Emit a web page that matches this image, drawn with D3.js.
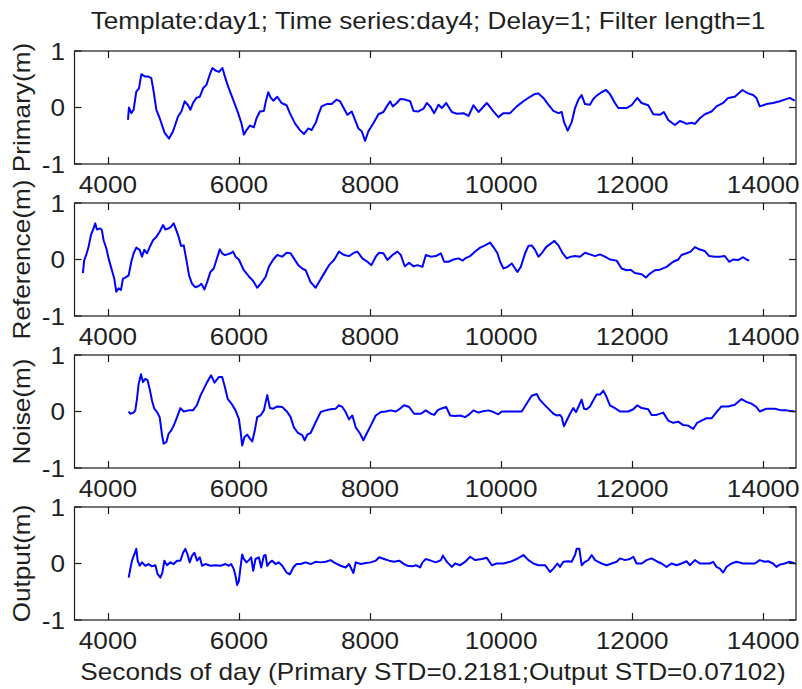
<!DOCTYPE html>
<html>
<head>
<meta charset="utf-8">
<script src="https://cdn.jsdelivr.net/npm/d3@7"></script>
<style>
  html, body { margin: 0; padding: 0; background: #fff; }
  svg { display: block; }
  text { font-family: "Liberation Sans", Arial, Helvetica, sans-serif; fill: #1f1f1f; }
</style>
</head>
<body>
<svg id="chart" width="802" height="689"></svg>
<script>
// Water-level series, [seconds of day, metres]
const primary = [[4306,-0.22],[4321,0],[4357,-0.10],[4392,-0.04],[4433,0.28],[4474,0.34],[4510,0.59],[4561,0.55],[4612,0.55],[4662,0.52],[4698,0.28],[4739,-0.04],[4790,-0.19],[4866,-0.45],[4933,-0.55],[4994,-0.42],[5070,-0.16],[5121,-0.07],[5172,0.11],[5223,0.04],[5259,-0.04],[5299,0.08],[5350,0.17],[5401,0.19],[5452,0.34],[5503,0.40],[5554,0.58],[5595,0.70],[5646,0.65],[5697,0.63],[5748,0.70],[5784,0.55],[5835,0.37],[5911,0.14],[5987,-0.10],[6038,-0.28],[6074,-0.48],[6115,-0.40],[6166,-0.32],[6227,-0.35],[6268,-0.19],[6319,-0.07],[6380,-0.06],[6410,0.11],[6446,0.27],[6482,0.18],[6523,0.12],[6584,0.19],[6650,0.08],[6726,0.04],[6777,-0.10],[6854,-0.28],[6930,-0.40],[6991,-0.47],[7058,-0.37],[7109,-0.40],[7175,-0.26],[7210,-0.13],[7261,0.02],[7338,0.06],[7414,0.06],[7491,0.14],[7542,0.11],[7593,0],[7654,-0.13],[7720,-0.07],[7771,-0.22],[7822,-0.37],[7873,-0.42],[7924,-0.59],[7975,-0.42],[8051,-0.28],[8128,-0.12],[8204,-0.08],[8255,0.02],[8306,0.11],[8347,0.02],[8408,0.08],[8459,0.15],[8535,0.14],[8612,0.11],[8663,-0.06],[8739,-0.07],[8816,-0.02],[8866,0.08],[8918,0.02],[8979,-0.10],[9045,0.05],[9096,-0.01],[9162,0.08],[9248,-0.08],[9324,-0.11],[9426,-0.10],[9502,-0.15],[9578,0.04],[9655,-0.08],[9782,0.08],[9883,-0.07],[9959,-0.17],[10036,-0.10],[10137,-0.10],[10239,0.02],[10340,0.11],[10442,0.19],[10518,0.24],[10569,0.25],[10645,0.17],[10721,0.05],[10798,-0.06],[10874,-0.10],[10925,-0.08],[10960,-0.26],[11016,-0.41],[11077,-0.26],[11128,-0.01],[11179,0.14],[11229,0.22],[11280,0.06],[11356,0.05],[11407,0.15],[11458,0.21],[11534,0.27],[11600,0.31],[11661,0.24],[11737,0.08],[11788,-0.01],[11915,-0.01],[11991,0.04],[12078,0.17],[12144,0.08],[12245,0.04],[12322,-0.12],[12423,-0.13],[12484,-0.08],[12550,-0.22],[12652,-0.31],[12728,-0.24],[12779,-0.26],[12830,-0.29],[12906,-0.27],[12957,-0.29],[13033,-0.19],[13109,-0.12],[13211,-0.07],[13287,0.02],[13388,0.08],[13465,0.17],[13566,0.19],[13683,0.31],[13769,0.25],[13846,0.22],[13896,0.17],[13947,0.02],[14049,0.06],[14150,0.08],[14252,0.11],[14328,0.14],[14404,0.17],[14480,0.12]];

const reference = [[3618,-0.24],[3638,-0.01],[3669,0.08],[3704,0.22],[3740,0.43],[3781,0.55],[3806,0.64],[3832,0.53],[3883,0.55],[3908,0.52],[3934,0.34],[3975,0.20],[4010,0.02],[4061,-0.19],[4097,-0.34],[4127,-0.57],[4163,-0.51],[4199,-0.54],[4229,-0.34],[4265,-0.32],[4316,-0.28],[4357,-0.04],[4392,0.11],[4433,0.21],[4484,0.17],[4520,0.05],[4555,0.17],[4596,0.11],[4637,0.22],[4688,0.34],[4739,0.40],[4790,0.49],[4841,0.61],[4877,0.53],[4927,0.55],[4963,0.58],[5004,0.64],[5040,0.53],[5080,0.40],[5116,0.24],[5157,0.25],[5198,-0.01],[5238,-0.28],[5284,-0.43],[5335,-0.49],[5386,-0.47],[5427,-0.43],[5473,-0.53],[5514,-0.40],[5564,-0.22],[5615,-0.16],[5656,-0.01],[5707,0.18],[5743,0.11],[5779,0.08],[5819,0.09],[5870,0.11],[5911,0.14],[5947,0.05],[5998,0],[6074,-0.19],[6151,-0.30],[6217,-0.38],[6278,-0.50],[6329,-0.43],[6405,-0.31],[6456,-0.13],[6523,0],[6584,0.08],[6660,0.05],[6726,0.12],[6788,0.11],[6838,0.02],[6905,-0.10],[6966,-0.16],[7017,-0.19],[7093,-0.40],[7170,-0.50],[7221,-0.40],[7297,-0.25],[7374,-0.10],[7450,-0.01],[7526,0.14],[7603,0.08],[7679,0.06],[7756,0.12],[7807,0.14],[7883,0.02],[7960,-0.04],[8021,-0.10],[8087,0.05],[8138,0.12],[8204,0.11],[8265,-0.01],[8342,0.08],[8418,0.14],[8469,0.08],[8530,-0.12],[8597,-0.06],[8663,-0.12],[8724,-0.10],[8800,-0.13],[8851,0.08],[8928,0.05],[9004,0.06],[9081,0.11],[9131,-0.04],[9197,-0.04],[9274,0],[9350,0.02],[9416,-0.02],[9451,0.02],[9528,0.06],[9604,0.14],[9680,0.21],[9756,0.25],[9832,0.30],[9883,0.22],[9944,0.11],[9985,-0.04],[10036,-0.16],[10097,-0.13],[10163,-0.07],[10213,-0.16],[10249,-0.22],[10300,-0.13],[10366,0.11],[10417,0.24],[10467,0.25],[10518,0.17],[10569,0.05],[10620,0.11],[10686,0.22],[10757,0.28],[10813,0.33],[10874,0.25],[10940,0.11],[11001,0.02],[11062,0.05],[11128,0.06],[11204,0.05],[11280,0.12],[11356,0.09],[11433,0.06],[11509,0.09],[11585,0.05],[11661,0],[11763,-0.02],[11839,-0.16],[11915,-0.19],[11976,-0.18],[12042,-0.24],[12144,-0.26],[12210,-0.32],[12271,-0.25],[12347,-0.19],[12423,-0.18],[12525,-0.13],[12626,-0.04],[12703,0],[12753,0.08],[12830,0.11],[12891,0.14],[12957,0.22],[13023,0.18],[13109,0.15],[13175,0.06],[13261,0.05],[13338,0.05],[13414,0.06],[13480,-0.04],[13541,0],[13617,-0.01],[13693,0.04],[13744,0],[13785,-0.02]];

const noise = [[4316,0],[4341,-0.04],[4392,-0.02],[4418,0.02],[4443,0.22],[4469,0.49],[4505,0.66],[4535,0.52],[4571,0.58],[4606,0.55],[4637,0.40],[4673,0.19],[4708,0.05],[4749,-0.01],[4790,-0.10],[4826,-0.42],[4851,-0.57],[4892,-0.54],[4927,-0.39],[4963,-0.34],[5004,-0.25],[5055,-0.10],[5106,0.06],[5157,0],[5233,0.02],[5299,0.02],[5361,0.12],[5412,0.28],[5463,0.40],[5514,0.52],[5575,0.64],[5626,0.51],[5692,0.61],[5743,0.61],[5779,0.46],[5829,0.22],[5880,0.15],[5947,0.02],[5998,-0.13],[6023,-0.34],[6049,-0.60],[6084,-0.45],[6125,-0.41],[6166,-0.48],[6202,-0.53],[6237,-0.36],[6278,-0.10],[6329,-0.07],[6380,0.02],[6431,0.29],[6472,0.06],[6523,0.05],[6584,0.09],[6660,0.08],[6737,-0.01],[6788,-0.10],[6838,-0.28],[6900,-0.38],[6966,-0.42],[7002,-0.51],[7042,-0.41],[7093,-0.38],[7170,-0.19],[7246,-0.01],[7323,0.02],[7399,0.04],[7476,0.05],[7526,0.11],[7577,0.08],[7628,-0.01],[7679,-0.14],[7730,-0.07],[7781,-0.28],[7847,-0.39],[7898,-0.51],[7949,-0.39],[8011,-0.25],[8087,-0.07],[8163,-0.01],[8240,0],[8316,0.02],[8393,0],[8469,0.06],[8520,0.11],[8597,0.08],[8673,-0.04],[8775,-0.04],[8851,0.02],[8928,-0.04],[8979,-0.06],[9030,0.02],[9081,0.05],[9162,0.08],[9223,-0.07],[9299,-0.08],[9375,-0.07],[9451,-0.10],[9502,-0.06],[9578,0.02],[9655,-0.02],[9705,0],[9807,0.02],[9883,-0.01],[9959,-0.05],[10010,0],[10137,0],[10315,0],[10391,0.14],[10467,0.28],[10544,0.31],[10584,0.22],[10645,0.14],[10721,0.05],[10798,-0.04],[10848,-0.07],[10899,-0.06],[10925,-0.10],[10960,-0.26],[11001,-0.16],[11052,-0.04],[11102,0.06],[11143,-0.01],[11194,0.12],[11229,0.21],[11265,0.05],[11306,0.04],[11356,0.09],[11407,0.20],[11458,0.30],[11509,0.30],[11560,0.37],[11600,0.28],[11661,0.11],[11737,0.06],[11814,0],[11941,0],[12017,0.04],[12078,0.11],[12144,0.06],[12245,0.04],[12296,-0.06],[12372,-0.06],[12474,-0.02],[12550,-0.16],[12626,-0.20],[12703,-0.18],[12779,-0.24],[12855,-0.25],[12931,-0.31],[12992,-0.20],[13058,-0.16],[13134,-0.12],[13211,-0.12],[13287,-0.01],[13363,0.09],[13465,0.09],[13566,0.12],[13668,0.22],[13744,0.17],[13820,0.14],[13896,0.08],[13947,0],[14049,0.05],[14176,0.05],[14278,0.02],[14354,0.02],[14480,0]];

const output = [[4316,-0.25],[4341,-0.10],[4367,0.05],[4403,0.16],[4433,0.26],[4454,0.05],[4484,-0.04],[4520,0.02],[4571,-0.04],[4622,-0.01],[4673,-0.05],[4724,-0.03],[4759,-0.19],[4800,-0.25],[4831,-0.16],[4861,0.05],[4902,-0.03],[4953,0.02],[5004,-0.01],[5055,0.05],[5106,0.05],[5147,0.19],[5182,0.26],[5218,0.15],[5248,0.02],[5284,0.14],[5320,0.19],[5361,0.05],[5401,0.11],[5437,-0.04],[5488,-0.01],[5564,-0.04],[5641,-0.03],[5717,-0.04],[5794,-0.01],[5845,-0.04],[5880,-0.01],[5921,-0.10],[5947,-0.22],[5972,-0.38],[5998,-0.31],[6023,-0.07],[6049,0.16],[6074,0.08],[6115,0.02],[6151,0.06],[6186,0.11],[6217,-0.13],[6252,0.08],[6304,0.11],[6339,-0.07],[6380,0.14],[6405,0.15],[6431,-0.04],[6472,0.02],[6507,0.05],[6558,-0.01],[6609,0.02],[6660,-0.04],[6726,-0.16],[6777,-0.19],[6828,-0.07],[6879,-0.01],[6940,-0.01],[7017,0.02],[7093,-0.01],[7170,0.03],[7246,0.02],[7323,0.03],[7399,0.06],[7450,0.02],[7501,-0.01],[7552,-0.04],[7628,-0.07],[7679,-0.01],[7705,-0.07],[7746,-0.17],[7781,0.02],[7858,-0.01],[7934,0.01],[8011,0.02],[8087,0.05],[8138,0.11],[8214,0.08],[8291,0.05],[8367,0.03],[8444,0.05],[8520,-0.01],[8571,-0.04],[8647,-0.05],[8698,-0.03],[8764,-0.07],[8800,0.02],[8851,0.08],[8928,0.05],[9004,0.02],[9081,0.06],[9111,0.14],[9172,0.03],[9248,-0.06],[9299,0],[9375,-0.03],[9451,0.03],[9528,0.12],[9604,0.06],[9705,0.08],[9782,0.10],[9858,-0.03],[9934,0],[10036,0],[10137,0.03],[10239,0.08],[10340,0.15],[10417,0.06],[10493,0],[10569,-0.03],[10671,-0.03],[10747,-0.15],[10798,-0.09],[10859,0],[10899,-0.06],[10950,0.03],[11026,0.04],[11077,0.03],[11128,0.15],[11153,0.26],[11194,0.26],[11229,-0.03],[11280,0.03],[11331,0.06],[11382,0.15],[11433,0.06],[11483,0.03],[11534,0],[11610,-0.03],[11687,0],[11763,0.03],[11814,0.09],[11890,0.06],[11966,0.08],[12017,0.12],[12068,0],[12144,0],[12220,0.06],[12296,0.09],[12372,0.04],[12448,0],[12525,-0.06],[12601,0],[12677,-0.03],[12753,0],[12830,0.04],[12880,-0.03],[12957,0.06],[13033,0],[13109,0],[13185,0],[13236,0.03],[13287,-0.06],[13338,-0.09],[13388,-0.16],[13439,-0.06],[13515,0],[13591,0.03],[13693,0],[13795,0],[13871,0],[13947,0.06],[14023,0.03],[14074,0.04],[14150,0],[14201,-0.06],[14252,-0.02],[14328,0],[14404,0.03],[14480,0]];

const panelSeries = [primary, reference, noise, output];
const panelLabels = ["Primary(m)", "Reference(m)", "Noise(m)", "Output(m)"];
const xTicks = [4000, 6000, 8000, 10000, 12000, 14000];
const yTicks = [-1, 0, 1];
const xDomain = [3490, 14500];
const yDomain = [-1, 1];
const titleText = "Template:day1; Time series:day4; Delay=1; Filter length=1";
const xLabelText = "Seconds of day (Primary STD=0.2181;Output STD=0.07102)";

const svg = d3.select("#chart");
const left = 74.5, right = 796;
const panelTops = [51, 203, 355, 507];
const panelH = 113;
const tickLen = 7;
const fontSize = 24;
const stretch = 1.09;   // the figure font runs a little wider than Arial

// widen a text element horizontally by the stretch factor
function widen(sel) {
  sel.each(function () {
    const w = this.getComputedTextLength();
    d3.select(this).attr("textLength", w * stretch).attr("lengthAdjust", "spacingAndGlyphs");
  });
}

const x = d3.scaleLinear().domain(xDomain).range([left, right]);

svg.append("text")
  .attr("x", 428).attr("y", 29)
  .attr("text-anchor", "middle")
  .attr("font-size", fontSize)
  .text(titleText)
  .call(widen);

panelSeries.forEach((series, i) => {
  const top = panelTops[i];
  const bottom = top + panelH;
  const y = d3.scaleLinear().domain(yDomain).range([bottom, top]);
  const g = svg.append("g");

  // data trace
  const line = d3.line().x(d => x(d[0])).y(d => y(d[1]));
  g.append("path")
    .datum(series)
    .attr("fill", "none")
    .attr("stroke", "#0000ff")
    .attr("stroke-width", 2)
    .attr("stroke-linejoin", "round")
    .attr("d", line);

  // inward ticks on all four sides
  const axisStyle = sel => sel.attr("stroke", "#1a1a1a").attr("stroke-width", 1.2);
  xTicks.forEach(t => {
    const px = Math.round(x(t)) + 0.5;
    g.append("line").attr("x1", px).attr("x2", px).attr("y1", top).attr("y2", top + tickLen).call(axisStyle);
    g.append("line").attr("x1", px).attr("x2", px).attr("y1", bottom).attr("y2", bottom - tickLen).call(axisStyle);
    g.append("text")
      .attr("x", x(t)).attr("y", bottom + 29)
      .attr("text-anchor", "middle")
      .attr("font-size", fontSize)
      .text(t)
      .call(widen);
  });
  yTicks.forEach(v => {
    const py = y(v);
    g.append("line").attr("x1", left).attr("x2", left + tickLen).attr("y1", py).attr("y2", py).call(axisStyle);
    g.append("line").attr("x1", right).attr("x2", right - tickLen).attr("y1", py).attr("y2", py).call(axisStyle);
    g.append("text")
      .attr("x", 65).attr("y", py + 8.5)
      .attr("text-anchor", "end")
      .attr("font-size", fontSize)
      .text(v)
      .call(widen);
  });

  // axes box
  g.append("rect")
    .attr("x", left).attr("y", top)
    .attr("width", right - left).attr("height", panelH)
    .attr("fill", "none")
    .call(axisStyle);

  // y label
  g.append("text")
    .attr("transform", `translate(30,${top + panelH / 2}) rotate(-90)`)
    .attr("text-anchor", "middle")
    .attr("font-size", fontSize)
    .text(panelLabels[i])
    .call(widen);
});

svg.append("text")
  .attr("x", 433).attr("y", 680)
  .attr("text-anchor", "middle")
  .attr("font-size", fontSize)
  .text(xLabelText)
  .call(widen);
</script>
</body>
</html>
